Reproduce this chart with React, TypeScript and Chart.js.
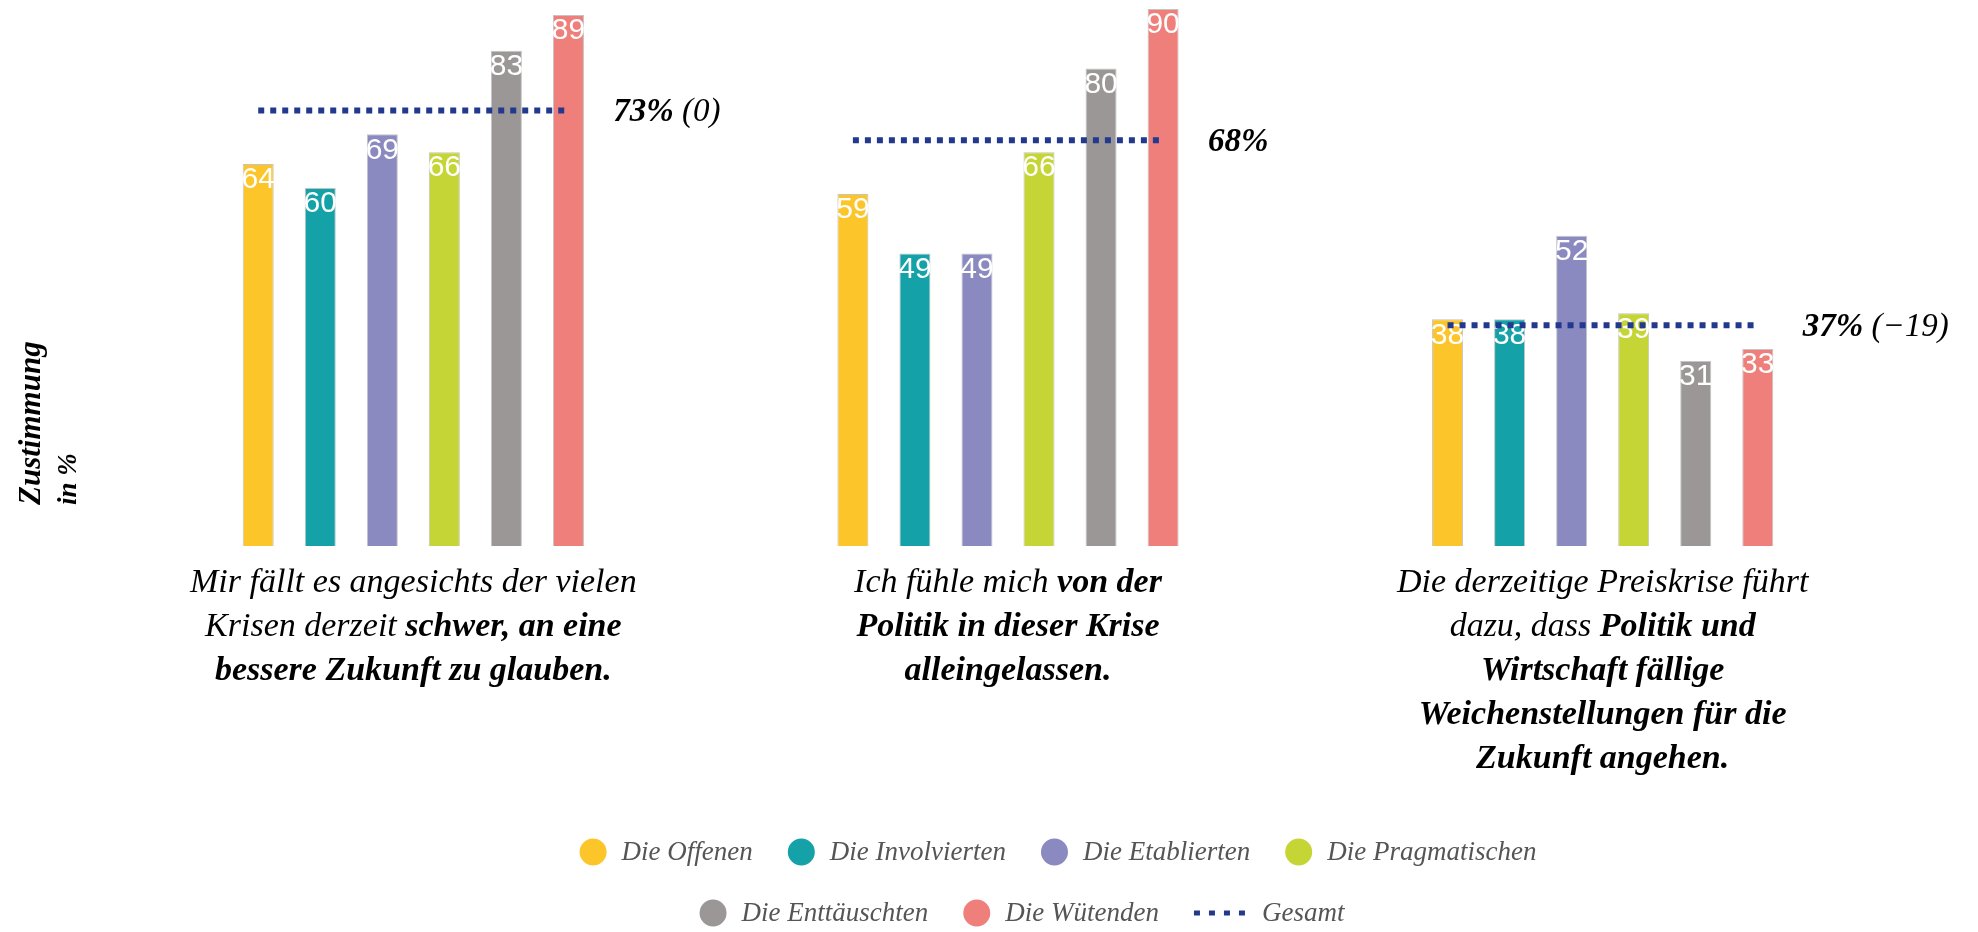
import React, { useEffect, useRef } from "react";
import { Chart, registerables } from "chart.js";

Chart.register(...registerables);

// ---------- data ----------
const categories = [
  "Mir fällt es angesichts der vielen Krisen derzeit schwer, an eine bessere Zukunft zu glauben.",
  "Ich fühle mich von der Politik in dieser Krise alleingelassen.",
  "Die derzeitige Preiskrise führt dazu, dass Politik und Wirtschaft fällige Weichenstellungen für die Zukunft angehen.",
];

// statement label lines: [text, bold]
const statementLines: [string, boolean][][][] = [
  [
    [["Mir fällt es angesichts der vielen", false]],
    [["Krisen derzeit ", false], ["schwer, an eine", true]],
    [["bessere Zukunft zu glauben.", true]],
  ],
  [
    [["Ich fühle mich ", false], ["von der", true]],
    [["Politik in dieser Krise", true]],
    [["alleingelassen.", true]],
  ],
  [
    [["Die derzeitige Preiskrise führt", false]],
    [["dazu, dass ", false], ["Politik und", true]],
    [["Wirtschaft fällige", true]],
    [["Weichenstellungen für die", true]],
    [["Zukunft angehen.", true]],
  ],
];

const seriesNames = [
  "Die Offenen",
  "Die Involvierten",
  "Die Etablierten",
  "Die Pragmatischen",
  "Die Enttäuschten",
  "Die Wütenden",
];
const offenen = [64, 59, 38];
const involvierten = [60, 49, 38];
const etablierten = [69, 49, 52];
const pragmatischen = [66, 66, 39];
const enttaeuschten = [83, 80, 31];
const wuetenden = [89, 90, 33];
const seriesValues = [offenen, involvierten, etablierten, pragmatischen, enttaeuschten, wuetenden];

const gesamtName = "Gesamt";
const gesamt = [73, 68, 37];
const gesamtChange = ["(0)", "", "(−19)"];

const seriesColors = ["#fcc52a", "#14a1a8", "#8a89c0", "#c6d536", "#9a9796", "#ee7f7a"];
const gesamtColor = "#22398e";

const yAxisTitle = ["Zustimmung", "in %"];
const legendRows = [[0, 1, 2, 3], [4, 5, 6]];

// ---------- styling ----------
const SERIF = '"Liberation Serif", "DejaVu Serif", serif';
const SANS = '"Liberation Sans Narrow", "Liberation Sans", Arial, sans-serif';

const customDraw = {
  id: "customDraw",
  afterDatasetsDraw(chart: any) {
    const { ctx, chartArea } = chart;
    const xScale = chart.scales.x;
    const yScale = chart.scales.y;
    const nBars = seriesNames.length;

    // value labels inside bars
    ctx.save();
    ctx.fillStyle = "#ffffff";
    ctx.font = `30px ${SANS}`;
    ctx.textAlign = "center";
    ctx.textBaseline = "middle";
    for (let d = 0; d < nBars; d++) {
      const meta = chart.getDatasetMeta(d);
      meta.data.forEach((bar: any, i: number) => {
        const v = chart.data.datasets[d].data[i];
        ctx.fillText(String(v), bar.x, bar.y + 16);
      });
    }
    ctx.restore();

    // Gesamt dotted lines + labels
    const gMeta = chart.data.datasets[nBars];
    ctx.save();
    for (let i = 0; i < categories.length; i++) {
      const first = chart.getDatasetMeta(0).data[i];
      const last = chart.getDatasetMeta(nBars - 1).data[i];
      const y = yScale.getPixelForValue(gMeta.data[i]);
      ctx.strokeStyle = gesamtColor;
      ctx.lineWidth = 6;
      ctx.lineCap = "butt";
      ctx.setLineDash([6, 6]);
      ctx.beginPath();
      ctx.moveTo(first.x, y);
      ctx.lineTo(last.x, y);
      ctx.stroke();
      ctx.setLineDash([]);

      const cx = xScale.getPixelForValue(i);
      let tx = cx + 200;
      ctx.fillStyle = "#000";
      ctx.textAlign = "left";
      ctx.textBaseline = "middle";
      ctx.font = `bold italic 33px ${SERIF}`;
      const main = `${gMeta.data[i]}%`;
      ctx.fillText(main, tx, y + 2);
      tx += ctx.measureText(main).width;
      if (gesamtChange[i]) {
        ctx.font = `italic 33px ${SERIF}`;
        ctx.fillText(" " + gesamtChange[i], tx, y + 2);
      }
    }
    ctx.restore();

    // category labels (statements)
    ctx.save();
    ctx.fillStyle = "#000";
    ctx.textBaseline = "middle";
    ctx.textAlign = "left";
    const fontFor = (b: boolean) => (b ? `bold italic 34px ${SERIF}` : `italic 34px ${SERIF}`);
    statementLines.forEach((lines, i) => {
      const cx = xScale.getPixelForValue(i);
      lines.forEach((segs, k) => {
        const y = chartArea.bottom + 37 + k * 44;
        let total = 0;
        segs.forEach(([t, b]) => {
          ctx.font = fontFor(b);
          total += ctx.measureText(t).width;
        });
        let x = cx - total / 2;
        segs.forEach(([t, b]) => {
          ctx.font = fontFor(b);
          ctx.fillText(t, x, y);
          x += ctx.measureText(t).width;
        });
      });
    });
    ctx.restore();

    // y-axis title (rotated)
    ctx.save();
    ctx.fillStyle = "#000";
    ctx.textAlign = "left";
    ctx.textBaseline = "middle";
    const titleBottom = chartArea.bottom - 41;
    const titleX = [32, 69];
    yAxisTitle.forEach((t, k) => {
      ctx.save();
      ctx.translate(titleX[k], titleBottom);
      ctx.rotate(-Math.PI / 2);
      ctx.font = k === 0 ? `bold italic 31px ${SERIF}` : `bold italic 27px ${SERIF}`;
      ctx.fillText(t, 0, 0);
      ctx.restore();
    });
    ctx.restore();

    // legend
    ctx.save();
    ctx.font = `italic 27px ${SERIF}`;
    ctx.textBaseline = "middle";
    ctx.textAlign = "left";
    const rowY = [852, 913];
    const rowCenter = [1058, 1022];
    const r = 13.5;
    const gap = 35;
    legendRows.forEach((row, ri) => {
      const items = row.map((idx) => {
        const label = chart.data.datasets[idx].label as string;
        const markerW = idx === nBars ? 51 : 2 * r;
        const textGap = idx === nBars ? 17 : 15;
        const w = markerW + textGap + ctx.measureText(label).width;
        return { idx, label, markerW, textGap, w };
      });
      const total = items.reduce((s, it) => s + it.w, 0) + gap * (items.length - 1);
      let x = rowCenter[ri] - total / 2;
      const y = rowY[ri];
      items.forEach((it) => {
        if (it.idx === nBars) {
          ctx.strokeStyle = gesamtColor;
          ctx.lineWidth = 5;
          ctx.setLineDash([6, 9]);
          ctx.beginPath();
          ctx.moveTo(x, y);
          ctx.lineTo(x + it.markerW, y);
          ctx.stroke();
          ctx.setLineDash([]);
        } else {
          ctx.fillStyle = chart.data.datasets[it.idx].backgroundColor as string;
          ctx.beginPath();
          ctx.arc(x + r, y, r, 0, Math.PI * 2);
          ctx.fill();
        }
        ctx.fillStyle = "#555555";
        ctx.fillText(it.label, x + it.markerW + it.textGap, y + 1);
        x += it.w + gap;
      });
    });
    ctx.restore();
  },
};

export default function App() {
  const canvasRef = useRef<HTMLCanvasElement | null>(null);

  useEffect(() => {
    if (!canvasRef.current) return;
    const datasets: any[] = seriesNames.map((name, d) => ({
      type: "bar",
      label: name,
      data: seriesValues[d],
      backgroundColor: seriesColors[d],
      borderColor: "rgba(190,190,190,0.9)",
      borderWidth: 1,
      categoryPercentage: 0.626,
      barPercentage: 0.5,
    }));
    datasets.push({
      type: "line",
      label: gesamtName,
      data: gesamt,
      showLine: false,
      pointRadius: 0,
      borderColor: gesamtColor,
      backgroundColor: gesamtColor,
    });

    const chart = new Chart(canvasRef.current, {
      type: "bar",
      data: { labels: categories, datasets },
      options: {
        animation: false,
        responsive: false,
        layout: { padding: { left: 116, right: 78, top: 0, bottom: 386 } },
        scales: {
          x: { display: false, offset: true, grid: { display: false } },
          y: { display: false, min: 0, max: 91.5 },
        },
        plugins: {
          legend: { display: false },
          tooltip: { enabled: false },
        },
      },
      plugins: [customDraw],
    });
    return () => chart.destroy();
  }, []);

  return (
    <div style={{ position: "absolute", left: 0, top: 0, width: 1978, height: 932, background: "#fff" }}>
      <canvas ref={canvasRef} width={1978} height={932} style={{ width: 1978, height: 932, display: "block" }} />
    </div>
  );
}
